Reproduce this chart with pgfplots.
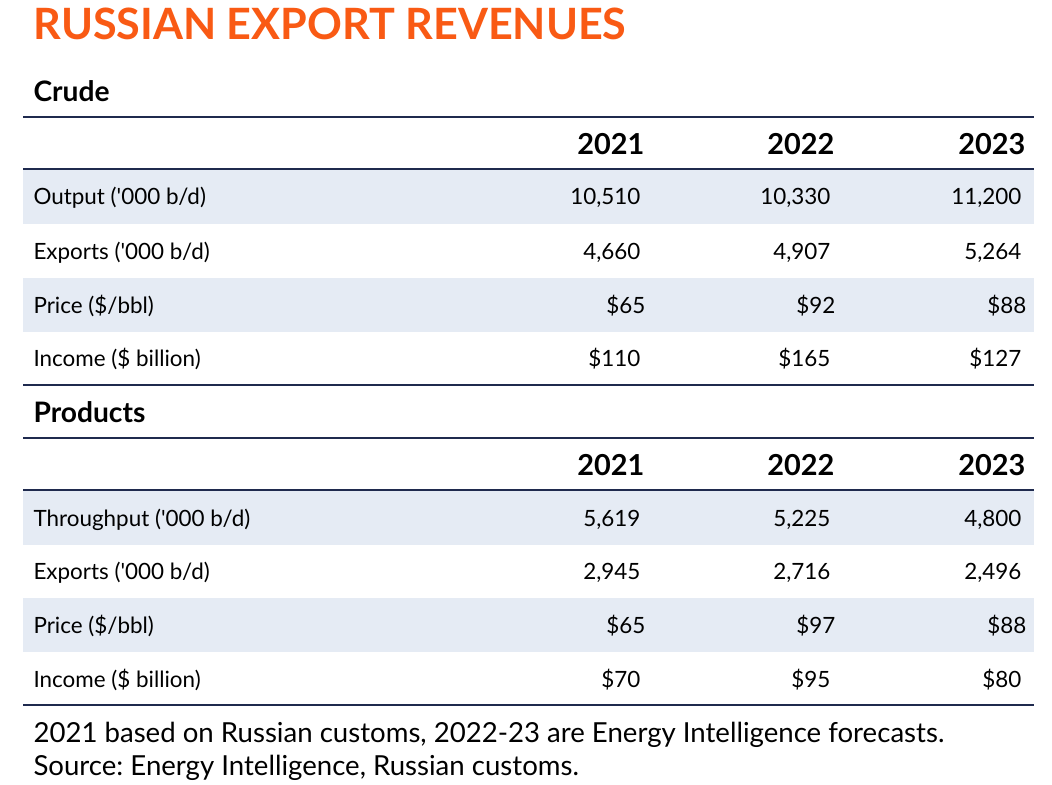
\documentclass[border=0pt]{standalone}
\usepackage{pgfplots}
\pgfplotsset{compat=1.18}
\usepackage{fontspec}
\setmainfont{Lato}
\frenchspacing
\definecolor{ttl}{HTML}{F95A14}
\definecolor{navy}{HTML}{1F2A4E}
\definecolor{band}{HTML}{E5EBF4}
\newcommand{\rowfont}{\fontsize{22.5}{27}\selectfont}
\newcommand{\hdfont}{\fontsize{28.3}{34}\selectfont\bfseries}
\newcommand{\yrfont}{\fontsize{29}{34}\selectfont\bfseries}
\begin{document}
\begin{tikzpicture}
\begin{axis}[width=1052bp,height=785bp,scale only axis,
  xmin=0,xmax=1052,ymin=0,ymax=785,y dir=reverse,hide axis,clip=false,
  every node/.style={inner sep=0pt,text=navy}]
% background
\addplot[fill=white,draw=none] coordinates {(0,0)(1052,0)(1052,785)(0,785)} -- cycle;
% bands
\addplot[fill=band,draw=none] coordinates {(23,170)(1034,170)(1034,224)(23,224)} -- cycle;
\addplot[fill=band,draw=none] coordinates {(23,278)(1034,278)(1034,332)(23,332)} -- cycle;
\addplot[fill=band,draw=none] coordinates {(23,491)(1034,491)(1034,545)(23,545)} -- cycle;
\addplot[fill=band,draw=none] coordinates {(23,598)(1034,598)(1034,652)(23,652)} -- cycle;
% rules
\addplot[navy,line width=1.2bp] coordinates {(23,117)(1034,117)};
\addplot[navy,line width=1.2bp] coordinates {(23,169)(1034,169)};
\addplot[navy,line width=1.2bp] coordinates {(23,385)(1034,385)};
\addplot[navy,line width=1.2bp] coordinates {(23,438)(1034,438)};
\addplot[navy,line width=1.2bp] coordinates {(23,490)(1034,490)};
\addplot[navy,line width=1.2bp] coordinates {(23,705)(1034,705)};
% title
\node[anchor=base west,text=ttl,font=\fontsize{43.3}{50}\selectfont\bfseries] at (axis cs:30,40) {RUSSIAN EXPORT REVENUES};
% section headings
\node[anchor=base west,font=\hdfont] at (axis cs:30,102) {Crude};
\node[anchor=base west,font=\hdfont] at (axis cs:30,422) {Products};
% year headers
\node[anchor=base east,font=\yrfont] at (axis cs:648,155) {2021};
\node[anchor=base east,font=\yrfont] at (axis cs:838,155) {2022};
\node[anchor=base east,font=\yrfont] at (axis cs:1029,155) {2023};
\node[anchor=base east,font=\yrfont] at (axis cs:648,475) {2021};
\node[anchor=base east,font=\yrfont] at (axis cs:838,475) {2022};
\node[anchor=base east,font=\yrfont] at (axis cs:1029,475) {2023};
% crude rows
\node[anchor=base west,font=\rowfont] at (axis cs:30,205) {Output (\textquotesingle 000 b/d)};
\node[anchor=base east,font=\rowfont] at (axis cs:644,205) {10,510};
\node[anchor=base east,font=\rowfont] at (axis cs:834,205) {10,330};
\node[anchor=base east,font=\rowfont] at (axis cs:1025,205) {11,200};
\node[anchor=base west,font=\rowfont] at (axis cs:30,259) {Exports (\textquotesingle 000 b/d)};
\node[anchor=base east,font=\rowfont] at (axis cs:644,259) {4,660};
\node[anchor=base east,font=\rowfont] at (axis cs:834,259) {4,907};
\node[anchor=base east,font=\rowfont] at (axis cs:1025,259) {5,264};
\node[anchor=base west,font=\rowfont] at (axis cs:30,313) {Price (\$/bbl)};
\node[anchor=base east,font=\rowfont] at (axis cs:649,313) {\$65};
\node[anchor=base east,font=\rowfont] at (axis cs:839,313) {\$92};
\node[anchor=base east,font=\rowfont] at (axis cs:1030,313) {\$88};
\node[anchor=base west,font=\rowfont] at (axis cs:30,366) {Income (\$ billion)};
\node[anchor=base east,font=\rowfont] at (axis cs:644,366) {\$110};
\node[anchor=base east,font=\rowfont] at (axis cs:834,366) {\$165};
\node[anchor=base east,font=\rowfont] at (axis cs:1025,366) {\$127};
% products rows
\node[anchor=base west,font=\rowfont] at (axis cs:30,526) {Throughput (\textquotesingle 000 b/d)};
\node[anchor=base east,font=\rowfont] at (axis cs:644,526) {5,619};
\node[anchor=base east,font=\rowfont] at (axis cs:834,526) {5,225};
\node[anchor=base east,font=\rowfont] at (axis cs:1025,526) {4,800};
\node[anchor=base west,font=\rowfont] at (axis cs:30,579) {Exports (\textquotesingle 000 b/d)};
\node[anchor=base east,font=\rowfont] at (axis cs:644,579) {2,945};
\node[anchor=base east,font=\rowfont] at (axis cs:834,579) {2,716};
\node[anchor=base east,font=\rowfont] at (axis cs:1025,579) {2,496};
\node[anchor=base west,font=\rowfont] at (axis cs:30,633) {Price (\$/bbl)};
\node[anchor=base east,font=\rowfont] at (axis cs:649,633) {\$65};
\node[anchor=base east,font=\rowfont] at (axis cs:839,633) {\$97};
\node[anchor=base east,font=\rowfont] at (axis cs:1030,633) {\$88};
\node[anchor=base west,font=\rowfont] at (axis cs:30,687) {Income (\$ billion)};
\node[anchor=base east,font=\rowfont] at (axis cs:644,687) {\$70};
\node[anchor=base east,font=\rowfont] at (axis cs:834,687) {\$95};
\node[anchor=base east,font=\rowfont] at (axis cs:1025,687) {\$80};
% footnote
\node[anchor=base west,font=\fontsize{27.7}{32}\selectfont] at (axis cs:30,742) {2021 based on Russian customs, 2022-23 are Energy Intelligence forecasts.};
\node[anchor=base west,font=\fontsize{27.7}{32}\selectfont] at (axis cs:30,775) {Source: Energy Intelligence, Russian customs.};
\end{axis}
\end{tikzpicture}
\end{document}
